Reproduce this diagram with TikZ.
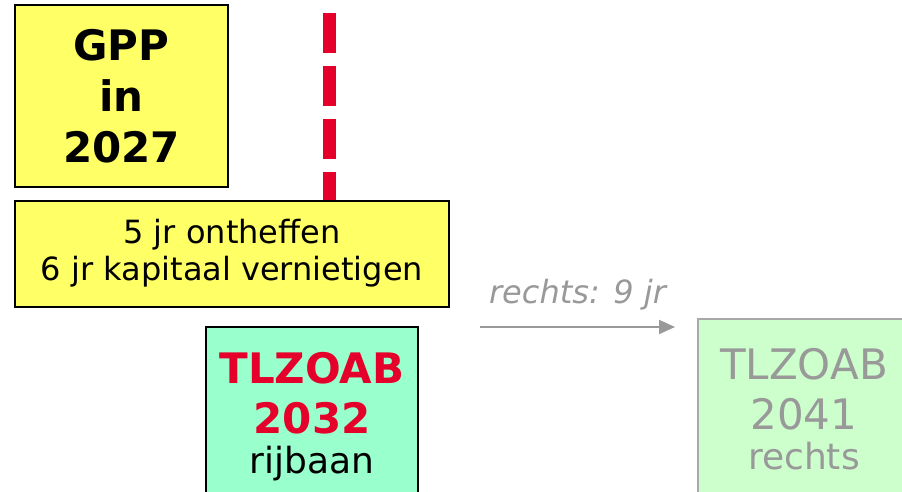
\documentclass[tikz,border=0pt]{standalone}
\usepackage{fontspec}
\setmainfont{DejaVu Sans}
\usetikzlibrary{positioning}
\usetikzlibrary{arrows.meta}
\definecolor{gppyellow}{HTML}{FFFF66}
\definecolor{tlred}{HTML}{E4002B}
\definecolor{tlgreen}{HTML}{99FFCC}
\definecolor{palegreen}{HTML}{CCFFCC}
\definecolor{fadegray}{HTML}{999999}
\tikzset{
  yellowbox/.style={rectangle,draw=black,line width=2pt,fill=gppyellow,align=center,inner sep=0pt},
  tlbox/.style={rectangle,line width=2pt,align=center,inner sep=0pt,minimum width=212pt,minimum height=180pt},
}

\begin{document}
\begin{tikzpicture}[x=1pt,y=-1pt]
\useasboundingbox (0,0) rectangle (902,492);
\clip (0,0) rectangle (902,492);
\node[yellowbox,minimum width=213pt,minimum height=182pt,font=\fontsize{42}{51}\selectfont\bfseries] (gpp) at (121.5,96) {GPP\\in\\2027};
\node[yellowbox,minimum width=434pt,minimum height=106pt,font=\fontsize{32}{37}\selectfont] (note) at (232,253.5) {5 jr ontheffen\\6 jr kapitaal vernietigen};
\coordinate (redtop) at (329,13);
\draw[tlred,line width=13pt,dash pattern=on 40pt off 13pt] (redtop) -- (redtop |- note.north);
\node[tlbox,draw=black,fill=tlgreen,font=\fontsize{42}{50}\selectfont] (now) at (312,417) {\textcolor{tlred}{\bfseries TLZOAB}\\\textcolor{tlred}{\bfseries 2032}\\[-10pt]{\fontsize{36}{40}\selectfont rijbaan}};
\node[tlbox,draw=fadegray!85,fill=palegreen,text=fadegray,font=\fontsize{42}{50}\selectfont] (later) at (804,409) {TLZOAB\\2041\\[-10pt]{\fontsize{36}{40}\selectfont rechts}};
\coordinate (shiftfrom) at (480,327);
\coordinate (shiftto) at (675,327);
\draw[fadegray,line width=2pt,-{Triangle[length=16pt,width=14pt]}] (shiftfrom) -- (shiftto) node[midway,anchor=base,yshift=24pt,font=\fontsize{32}{38}\selectfont\itshape] (shiftlabel) {rechts: 9 jr};
\end{tikzpicture}
\end{document}
